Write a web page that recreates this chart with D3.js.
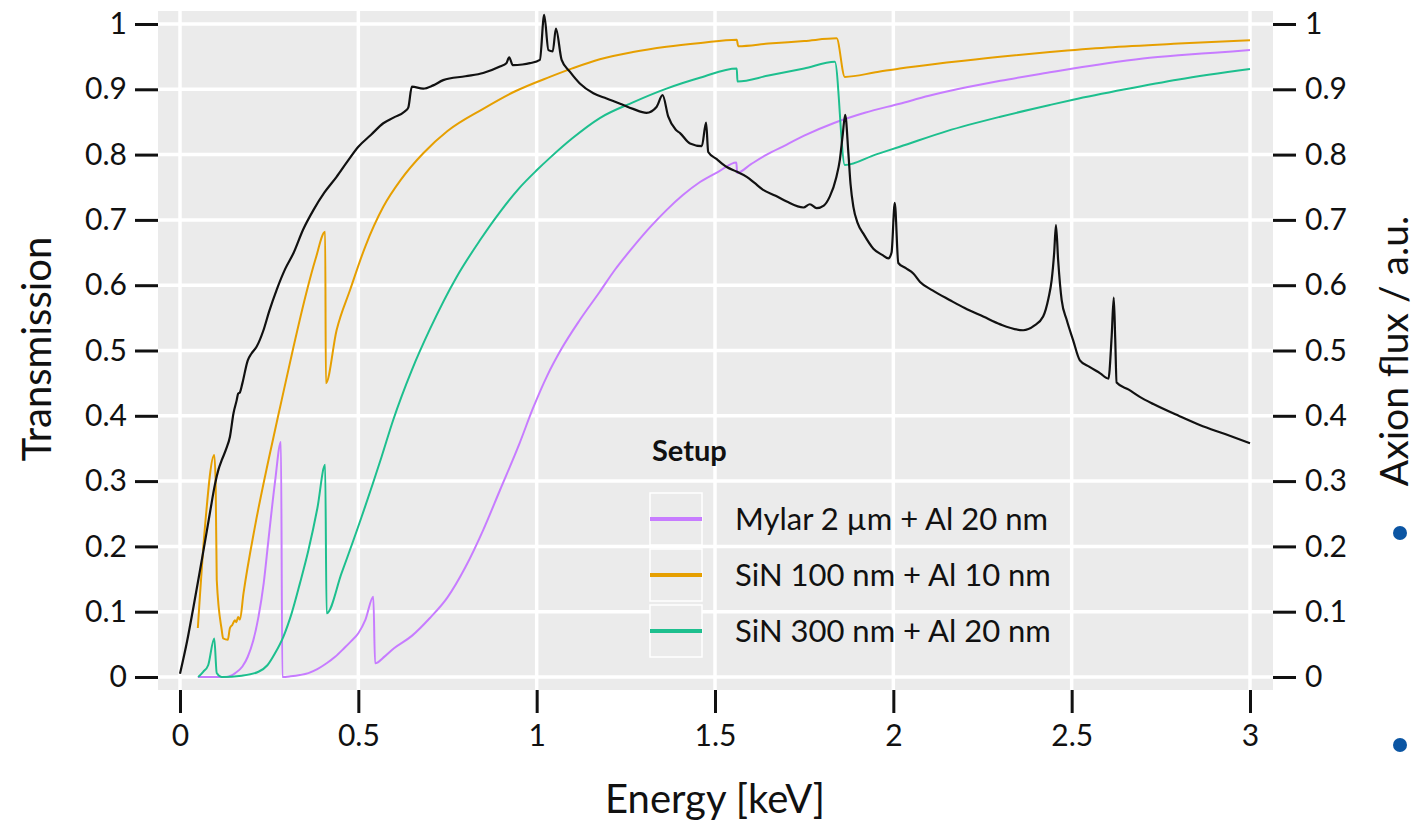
<!DOCTYPE html>
<html>
<head>
<meta charset="utf-8">
<script src="https://cdn.jsdelivr.net/npm/d3@7"></script>
<style>
  html, body { margin: 0; padding: 0; background: #ffffff; }
  svg { display: block; font-family: Lato, "Open Sans", sans-serif; }
</style>
</head>
<body>
<svg id="chart" width="1418" height="822"></svg>
<script>
// ---- data -------------------------------------------------------------
const xTicks = [0, 0.5, 1, 1.5, 2, 2.5, 3];
const xTickLabels = ["0", "0.5", "1", "1.5", "2", "2.5", "3"];
const yTicks = [0, 0.1, 0.2, 0.3, 0.4, 0.5, 0.6, 0.7, 0.8, 0.9, 1];
const yTickLabels = ["0", "0.1", "0.2", "0.3", "0.4", "0.5", "0.6", "0.7", "0.8", "0.9", "1"];

const setupNames = ["Mylar 2 \u00b5m + Al 20 nm", "SiN 100 nm + Al 10 nm", "SiN 300 nm + Al 20 nm"];
const setupColors = ["#C77CFF", "#E69F00", "#1DBF8E"];

// transmission [energy keV, transmission]
const mylar = [
  [0.05,0],[0.13,0],[0.155,0.006],[0.175,0.016],[0.19,0.031],[0.205,0.055],[0.22,0.092],
  [0.235,0.145],[0.248,0.21],[0.266,0.297],[0.283,0.36],[0.287,0.0],[0.31,0.001],[0.336,0.003],
  [0.36,0.006],[0.385,0.012],[0.411,0.021],[0.435,0.031],[0.46,0.044],[0.48,0.055],[0.5,0.067],
  [0.52,0.088],[0.542,0.123],[0.547,0.021],[0.575,0.032],[0.6,0.044],[0.65,0.063],[0.7,0.09],
  [0.75,0.122],[0.8,0.168],[0.85,0.225],[0.897,0.286],[0.95,0.355],[0.99,0.412],
  [1.03,0.462],[1.07,0.503],[1.12,0.546],[1.177,0.59],[1.22,0.624],[1.271,0.659],[1.32,0.69],
  [1.364,0.715],[1.41,0.738],[1.458,0.758],[1.51,0.774],[1.56,0.788],[1.562,0.772],[1.6,0.785],
  [1.645,0.8],[1.7,0.815],[1.75,0.829],[1.832,0.848],[1.92,0.864],[2.018,0.878],[2.1,0.89],
  [2.205,0.903],[2.3,0.913],[2.439,0.926],[2.504,0.932],[2.6,0.94],[2.7,0.947],[2.8,0.952],
  [2.9,0.956],[3.0,0.96]
];

const sin100 = [
  [0.05,0.075],[0.07,0.23],[0.096,0.34],[0.1,0.297],[0.103,0.149],[0.117,0.072],[0.121,0.059],
  [0.134,0.057],[0.14,0.075],[0.147,0.08],[0.154,0.087],[0.158,0.084],[0.163,0.092],[0.168,0.088],
  [0.178,0.128],[0.21,0.23],[0.248,0.332],[0.285,0.424],[0.318,0.505],[0.355,0.59],[0.38,0.64],
  [0.407,0.682],[0.409,0.45],[0.439,0.531],[0.477,0.593],[0.52,0.66],[0.57,0.72],[0.62,0.762],
  [0.682,0.802],[0.75,0.836],[0.85,0.87],[0.94,0.897],[1.037,0.919],[1.1,0.932],[1.177,0.946],
  [1.27,0.957],[1.364,0.965],[1.46,0.971],[1.561,0.976],[1.565,0.966],[1.65,0.97],[1.75,0.974],
  [1.841,0.978],[1.864,0.919],[1.95,0.926],[2.018,0.932],[2.15,0.941],[2.299,0.95],[2.439,0.957],
  [2.6,0.964],[2.8,0.97],[3.0,0.975]
];

const sin300 = [
  [0.051,0],[0.065,0.008],[0.079,0.018],[0.096,0.059],[0.103,0.006],[0.117,0.0],[0.173,0.002],
  [0.22,0.008],[0.245,0.018],[0.266,0.036],[0.29,0.062],[0.313,0.0975],[0.336,0.143],[0.36,0.194],
  [0.385,0.258],[0.407,0.325],[0.411,0.0975],[0.453,0.159],[0.509,0.245],[0.565,0.337],
  [0.598,0.394],[0.65,0.47],[0.701,0.533],[0.776,0.613],[0.84,0.668],[0.897,0.712],[0.95,0.748],
  [1.0,0.776],[1.037,0.795],[1.1,0.825],[1.177,0.856],[1.27,0.88],[1.364,0.901],[1.46,0.918],
  [1.561,0.932],[1.563,0.912],[1.65,0.921],[1.75,0.932],[1.836,0.942],[1.864,0.784],[1.95,0.8],
  [2.018,0.812],[2.15,0.836],[2.3,0.858],[2.439,0.876],[2.504,0.884],[2.65,0.9],[2.8,0.915],
  [3.0,0.931]
];

// solar axion flux [energy keV, flux a.u.]
const axionFlux = [
  [0,0.005],[0.02,0.055],[0.037,0.105],[0.055,0.16],[0.07,0.207],[0.085,0.255],[0.098,0.295],
  [0.108,0.318],[0.117,0.332],[0.13,0.35],[0.14,0.368],[0.15,0.404],[0.159,0.424],[0.163,0.434],
  [0.168,0.436],[0.175,0.45],[0.19,0.485],[0.2,0.495],[0.215,0.506],[0.234,0.531],[0.25,0.56],
  [0.271,0.593],[0.295,0.625],[0.318,0.649],[0.345,0.685],[0.374,0.715],[0.405,0.742],[0.439,0.766],
  [0.47,0.79],[0.5,0.812],[0.535,0.83],[0.57,0.848],[0.6,0.857],[0.63,0.866],[0.64,0.872],
  [0.65,0.904],[0.682,0.901],[0.71,0.906],[0.738,0.914],[0.8,0.92],[0.85,0.925],[0.897,0.935],
  [0.915,0.94],[0.923,0.949],[0.933,0.937],[0.96,0.938],[0.981,0.94],[1.009,0.945],[1.021,1.014],
  [1.033,0.96],[1.045,0.958],[1.054,0.993],[1.07,0.945],[1.093,0.927],[1.121,0.909],[1.159,0.894],
  [1.196,0.886],[1.234,0.878],[1.27,0.87],[1.308,0.864],[1.336,0.873],[1.353,0.891],[1.369,0.858],
  [1.39,0.838],[1.402,0.833],[1.43,0.817],[1.463,0.813],[1.475,0.849],[1.481,0.804],[1.505,0.793],
  [1.533,0.781],[1.56,0.774],[1.589,0.766],[1.61,0.757],[1.635,0.746],[1.67,0.737],[1.701,0.728],
  [1.748,0.719],[1.766,0.724],[1.785,0.718],[1.805,0.722],[1.822,0.736],[1.84,0.765],[1.85,0.792],
  [1.858,0.83],[1.865,0.861],[1.874,0.802],[1.88,0.755],[1.888,0.72],[1.9,0.695],[1.916,0.679],
  [1.944,0.656],[1.97,0.646],[1.986,0.641],[1.995,0.65],[2.004,0.726],[2.014,0.634],[2.035,0.626],
  [2.056,0.618],[2.075,0.605],[2.11,0.592],[2.159,0.577],[2.2,0.565],[2.252,0.552],[2.3,0.54],
  [2.364,0.531],[2.395,0.538],[2.42,0.552],[2.435,0.58],[2.444,0.608],[2.451,0.65],[2.456,0.692],
  [2.462,0.639],[2.472,0.577],[2.486,0.547],[2.504,0.516],[2.523,0.485],[2.55,0.475],[2.58,0.465],
  [2.603,0.457],[2.612,0.52],[2.618,0.581],[2.622,0.52],[2.626,0.451],[2.66,0.44],[2.691,0.429],
  [2.729,0.418],[2.8,0.4],[2.859,0.386],[2.93,0.372],[3.0,0.358]
];

const setups = [mylar, sin100, sin300];

// ---- layout -----------------------------------------------------------
const svg = d3.select("#chart");
const panel = { left: 158, right: 1273, top: 11, bottom: 690 };
const x = d3.scaleLinear().domain([0, 3]).range([180, 1250]);
const y = d3.scaleLinear().domain([0, 1]).range([677, 24]);
const tickFont = 30;
const titleFont = 40;

// panel background
svg.append("rect")
  .attr("x", panel.left).attr("y", panel.top)
  .attr("width", panel.right - panel.left).attr("height", panel.bottom - panel.top)
  .attr("fill", "#EBEBEB");

// grid
const grid = svg.append("g").attr("stroke", "#ffffff").attr("stroke-width", 3.5);
grid.selectAll("line.h").data(yTicks).join("line")
  .attr("x1", panel.left).attr("x2", panel.right)
  .attr("y1", d => y(d)).attr("y2", d => y(d));
grid.selectAll("line.v").data(xTicks).join("line")
  .attr("y1", panel.top).attr("y2", panel.bottom)
  .attr("x1", d => x(d)).attr("x2", d => x(d));

// axes
const axisStyle = g => {
  g.select(".domain").remove();
  g.selectAll(".tick line").attr("stroke", "#111").attr("stroke-width", 3);
  g.selectAll(".tick text").attr("fill", "#111").style("font-size", tickFont + "px")
    .style("font-family", "Lato");
};

svg.append("g")
  .attr("transform", `translate(${panel.left},0)`)
  .call(d3.axisLeft(y).tickValues(yTicks).tickFormat((d, i) => yTickLabels[i]).tickSize(23).tickPadding(8))
  .call(axisStyle);

svg.append("g")
  .attr("transform", `translate(${panel.right},0)`)
  .call(d3.axisRight(y).tickValues(yTicks).tickFormat((d, i) => yTickLabels[i]).tickSize(23).tickPadding(9))
  .call(axisStyle);

svg.append("g")
  .attr("transform", `translate(0,${panel.bottom})`)
  .call(d3.axisBottom(x).tickValues(xTicks).tickFormat((d, i) => xTickLabels[i]).tickSize(23).tickPadding(12))
  .call(axisStyle);

// axis titles
svg.append("text")
  .attr("transform", "translate(51,349) rotate(-90)")
  .attr("text-anchor", "middle")
  .style("font-size", titleFont + "px").attr("fill", "#111")
  .text("Transmission");

svg.append("text")
  .attr("x", 715).attr("y", 813)
  .attr("text-anchor", "middle")
  .style("font-size", titleFont + "px").attr("fill", "#111")
  .text("Energy [keV]");

svg.append("text")
  .attr("transform", "translate(1408,351) rotate(-90)")
  .attr("text-anchor", "middle")
  .style("font-size", "39px").attr("fill", "#111")
  .text("Axion flux / a.u.");

// curves
const smooth = d3.line().curve(d3.curveMonotoneX).x(d => x(d[0])).y(d => y(d[1]));
const curves = svg.append("g").attr("fill", "none").attr("stroke-linejoin", "round");

setups.forEach((s, i) => {
  curves.append("path").datum(s)
    .attr("d", smooth)
    .attr("stroke", setupColors[i])
    .attr("stroke-width", 2);
});

curves.append("path").datum(axionFlux)
  .attr("d", smooth)
  .attr("stroke", "#111")
  .attr("stroke-width", 2.2);

// legend
const legend = svg.append("g").attr("transform", "translate(650,0)");
legend.append("text")
  .attr("x", 2).attr("y", 461)
  .style("font-size", "29px").style("font-weight", "bold").attr("fill", "#111")
  .text("Setup");

const rowY = [519, 575, 631];
setupNames.forEach((name, i) => {
  const g = legend.append("g").attr("transform", `translate(0,${rowY[i]})`);
  g.append("rect")
    .attr("x", 0).attr("y", -26).attr("width", 52).attr("height", 52)
    .attr("fill", "#EBEBEB").attr("stroke", "#ffffff").attr("stroke-width", 1.5);
  g.append("line")
    .attr("x1", 0).attr("x2", 52).attr("y1", 0).attr("y2", 0)
    .attr("stroke", setupColors[i]).attr("stroke-width", 4);
  g.append("text")
    .attr("x", 85).attr("y", 0).attr("dy", "0.35em")
    .style("font-size", "31px").attr("fill", "#111")
    .text(name);
});

// bullet marks at the right margin
svg.append("g").selectAll("circle").data([533, 745]).join("circle")
  .attr("cx", 1400).attr("cy", d => d).attr("r", 7)
  .attr("fill", "#0B55A3");
</script>
</body>
</html>
